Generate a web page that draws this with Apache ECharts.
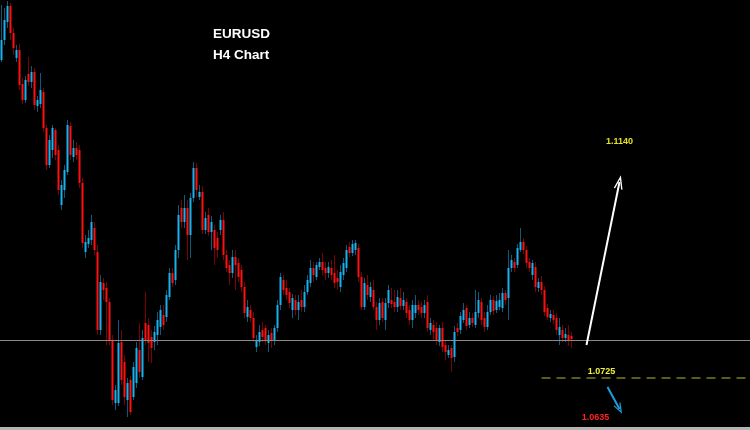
<!DOCTYPE html>
<html><head><meta charset="utf-8">
<script src="https://cdn.jsdelivr.net/npm/echarts@6/dist/echarts.min.js"></script>
<style>html,body{margin:0;padding:0;background:#000}#c{width:750px;height:430px}</style>
</head><body><div id="c"></div>
<script>
// EURUSD H4 candles
const opens = [
1.1360,1.1400,1.1436,1.1468,1.1414,1.1364,1.1380,1.1312,1.1280,1.1332,
1.1316,1.1336,1.1268,1.1272,1.1296,1.1224,1.1150,1.1180,1.1220,1.1180,
1.1070,1.1100,1.1136,1.1228,1.1166,1.1184,1.1180,1.1114,1.0976,1.0992,
1.1000,1.1024,1.0976,1.0820,1.0914,1.0904,1.0876,1.0800,1.0674,1.0674,
1.0796,1.0756,1.0680,1.0720,1.0686,1.0714,1.0780,1.0726,1.0834,1.0830,
1.0806,1.0796,1.0810,1.0826,1.0850,1.0846,1.0886,1.0934,1.0920,1.0980,
1.1064,1.1036,1.1064,1.1010,1.1084,1.1144,1.1086,1.1096,1.1020,1.1050,
1.1016,1.1020,1.1004,1.1020,1.1040,1.0970,1.0950,1.0934,1.0966,1.0954,
1.0940,1.0906,1.0846,1.0860,1.0844,1.0786,1.0796,1.0820,1.0824,1.0794,
1.0814,1.0800,1.0824,1.0870,1.0920,1.0904,1.0896,1.0860,1.0880,1.0860,
1.0880,1.0866,1.0896,1.0914,1.0944,1.0926,1.0946,1.0956,1.0944,1.0934,
1.0944,1.0934,1.0924,1.0906,1.0930,1.0944,1.0986,1.0974,1.0980,1.0984,
1.0926,1.0866,1.0910,1.0886,1.0900,1.0866,1.0840,1.0876,1.0840,1.0874,
1.0880,1.0876,1.0866,1.0884,1.0868,1.0876,1.0860,1.0840,1.0854,1.0870,
1.0866,1.0854,1.0876,1.0820,1.0830,1.0824,1.0796,1.0824,1.0790,1.0770,
1.0784,1.0766,1.0824,1.0820,1.0840,1.0864,1.0830,1.0844,1.0830,1.0854,
1.0876,1.0844,1.0826,1.0856,1.0880,1.0860,1.0866,1.0864,1.0894,1.0884,
1.0944,1.0956,1.0950,1.0980,1.0996,1.0980,1.0956,1.0930,1.0946,1.0904,
1.0916,1.0900,1.0864,1.0844,1.0850,1.0844,1.0810,1.0820,1.0804,1.0810,
1.0808];
const closes = [
1.1400,1.1440,1.1468,1.1414,1.1384,1.1380,1.1310,1.1280,1.1320,1.1316,
1.1336,1.1270,1.1280,1.1300,1.1224,1.1150,1.1200,1.1224,1.1170,1.1100,
1.1110,1.1140,1.1230,1.1170,1.1184,1.1170,1.1114,1.0994,1.0996,1.1004,
1.1036,1.0980,1.0820,1.0916,1.0900,1.0876,1.0800,1.0680,1.0700,1.0794,
1.0720,1.0686,1.0714,1.0656,1.0746,1.0784,1.0736,1.0804,1.0800,1.0794,
1.0784,1.0816,1.0840,1.0860,1.0830,1.0890,1.0934,1.0914,1.0980,1.1050,
1.1036,1.1064,1.1010,1.1084,1.1144,1.1100,1.1096,1.1020,1.1044,1.1016,
1.1036,1.0984,1.0980,1.1040,1.0970,1.0944,1.0934,1.0966,1.0950,1.0926,
1.0906,1.0854,1.0866,1.0844,1.0804,1.0800,1.0816,1.0806,1.0800,1.0810,
1.0800,1.0824,1.0870,1.0926,1.0900,1.0890,1.0874,1.0884,1.0860,1.0876,
1.0866,1.0896,1.0920,1.0944,1.0930,1.0950,1.0956,1.0940,1.0934,1.0946,
1.0930,1.0914,1.0916,1.0936,1.0954,1.0980,1.0974,1.0992,1.0994,1.0926,
1.0866,1.0914,1.0890,1.0906,1.0866,1.0840,1.0874,1.0844,1.0874,1.0900,
1.0872,1.0866,1.0886,1.0868,1.0880,1.0854,1.0840,1.0870,1.0870,1.0860,
1.0854,1.0870,1.0824,1.0834,1.0816,1.0800,1.0824,1.0786,1.0776,1.0780,
1.0764,1.0816,1.0816,1.0848,1.0860,1.0828,1.0844,1.0834,1.0856,1.0880,
1.0840,1.0826,1.0856,1.0880,1.0858,1.0878,1.0880,1.0894,1.0880,1.0944,
1.0960,1.0944,1.0984,1.0996,1.0980,1.0954,1.0944,1.0954,1.0906,1.0916,
1.0900,1.0856,1.0846,1.0852,1.0840,1.0820,1.0826,1.0804,1.0812,1.0800,
1.0802];
const highs = [
1.1470,1.1464,1.1478,1.1474,1.1424,1.1390,1.1392,1.1324,1.1328,1.1366,
1.1348,1.1344,1.1288,1.1334,1.1304,1.1230,1.1210,1.1230,1.1224,1.1190,
1.1120,1.1150,1.1240,1.1236,1.1200,1.1196,1.1190,1.1124,1.1010,1.1020,
1.1050,1.1036,1.0990,1.0930,1.0924,1.0916,1.0884,1.0810,1.0710,1.0840,
1.0820,1.0770,1.0724,1.0728,1.0756,1.0796,1.0834,1.0820,1.0896,1.0844,
1.0820,1.0828,1.0856,1.0870,1.0870,1.0900,1.0944,1.0944,1.0990,1.1070,
1.1080,1.1090,1.1080,1.1094,1.1156,1.1154,1.1110,1.1108,1.1056,1.1064,
1.1048,1.1030,1.1016,1.1050,1.1056,1.0980,1.0960,1.0980,1.0980,1.0964,
1.0950,1.0916,1.0880,1.0870,1.0856,1.0810,1.0830,1.0836,1.0830,1.0820,
1.0824,1.0830,1.0880,1.0934,1.0930,1.0920,1.0904,1.0892,1.0890,1.0890,
1.0900,1.0910,1.0930,1.0960,1.0956,1.0956,1.0964,1.0974,1.0956,1.0956,
1.0960,1.0970,1.0940,1.0950,1.0964,1.0990,1.0996,1.1000,1.1000,1.0992,
1.0936,1.0924,1.0930,1.0916,1.0920,1.0876,1.0884,1.0884,1.0884,1.0910,
1.0904,1.0900,1.0900,1.0904,1.0896,1.0884,1.0870,1.0880,1.0890,1.0880,
1.0876,1.0880,1.0890,1.0844,1.0840,1.0836,1.0830,1.0836,1.0800,1.0790,
1.0790,1.0828,1.0834,1.0856,1.0874,1.0870,1.0856,1.0854,1.0900,1.0896,
1.0884,1.0856,1.0870,1.0890,1.0888,1.0890,1.0894,1.0904,1.0900,1.0980,
1.0970,1.0964,1.0992,1.1024,1.1004,1.0988,1.0964,1.0960,1.0956,1.0924,
1.0928,1.0908,1.0872,1.0860,1.0860,1.0854,1.0844,1.0830,1.0824,1.0830,
1.0816];
const lows = [
1.1356,1.1390,1.1424,1.1400,1.1370,1.1356,1.1300,1.1272,1.1274,1.1308,
1.1304,1.1260,1.1256,1.1264,1.1216,1.1140,1.1144,1.1164,1.1160,1.1090,
1.1060,1.1084,1.1130,1.1160,1.1156,1.1160,1.1104,1.0984,1.0964,1.0984,
1.0990,1.0970,1.0810,1.0810,1.0880,1.0790,1.0790,1.0670,1.0660,1.0668,
1.0710,1.0670,1.0646,1.0650,1.0680,1.0704,1.0724,1.0720,1.0790,1.0756,
1.0754,1.0780,1.0790,1.0810,1.0820,1.0836,1.0880,1.0906,1.0910,1.0964,
1.1024,1.1024,1.0960,1.0964,1.1076,1.1086,1.1080,1.1012,1.1012,1.1008,
1.0980,1.0950,1.0964,1.1010,1.0960,1.0936,1.0910,1.0924,1.0900,1.0916,
1.0896,1.0844,1.0836,1.0836,1.0796,1.0776,1.0788,1.0796,1.0790,1.0776,
1.0784,1.0790,1.0816,1.0860,1.0890,1.0880,1.0864,1.0844,1.0850,1.0840,
1.0856,1.0856,1.0890,1.0906,1.0916,1.0920,1.0940,1.0930,1.0920,1.0924,
1.0920,1.0904,1.0900,1.0896,1.0920,1.0936,1.0966,1.0968,1.0970,1.0916,
1.0860,1.0860,1.0880,1.0876,1.0860,1.0820,1.0830,1.0836,1.0820,1.0864,
1.0864,1.0856,1.0856,1.0860,1.0860,1.0844,1.0830,1.0824,1.0844,1.0850,
1.0844,1.0844,1.0816,1.0810,1.0800,1.0790,1.0788,1.0776,1.0760,1.0764,
1.0736,1.0756,1.0808,1.0812,1.0834,1.0820,1.0824,1.0826,1.0824,1.0844,
1.0830,1.0816,1.0820,1.0850,1.0850,1.0854,1.0860,1.0856,1.0870,1.0840,
1.0936,1.0936,1.0944,1.0976,1.0972,1.0944,1.0936,1.0920,1.0896,1.0896,
1.0890,1.0848,1.0840,1.0836,1.0832,1.0810,1.0790,1.0796,1.0796,1.0788,
1.0784];

const slotCount = 250;               // bars incl. empty chart-shift area on the right
const priceLine = 1.0800;            // grey horizontal line
const supportLevel = 1.0725;
const labelTexts = ['1.1140', '1.0725', '1.0635'];
const titleTexts = ['EURUSD', 'H4 Chart'];

const categories = [];
for (let i = 0; i < slotCount; i++) categories.push(String(i));

const full = opens.map((o, i) => [o, closes[i], lows[i], highs[i]]);
const bodies = opens.map((o, i) => [o, closes[i], Math.min(o, closes[i]), Math.max(o, closes[i])]);

const chevron = 'path://M0,12L5,0L10,12L8.4,12L5,3.8L1.6,12Z';

const chart = echarts.init(document.getElementById('c'), null, {renderer: 'canvas'});
chart.setOption({
  backgroundColor: '#000000',
  animation: false,
  graphic: [
    {type: 'text', left: 213, top: 27, style: {text: titleTexts[0], fill: '#ffffff', font: 'bold 13.5px "Liberation Sans", Arial, sans-serif'}},
    {type: 'text', left: 213, top: 48, style: {text: titleTexts[1], fill: '#ffffff', font: 'bold 13.5px "Liberation Sans", Arial, sans-serif'}}
  ],
  grid: {left: 0, right: 0, top: 0, bottom: 1.5},
  xAxis: {
    type: 'category', data: categories, boundaryGap: true,
    axisLine: {show: true, onZero: false, lineStyle: {color: '#b4b4b4', width: 3}},
    axisTick: {show: false}, axisLabel: {show: false}, splitLine: {show: false}
  },
  yAxis: {
    type: 'value', min: 1.0623, max: 1.1480, show: false, splitLine: {show: false}
  },
  series: [
    {
      type: 'candlestick', name: 'wicks', data: full, barWidth: 1, silent: true,
      itemStyle: {color: '#0c5a7e', color0: '#800000', borderColor: '#0c5a7e', borderColor0: '#800000', borderWidth: 1},
      markLine: {
        silent: true, animation: false, symbol: ['none', 'none'],
        label: {show: false},
        data: [
          {yAxis: priceLine, lineStyle: {color: '#8a8a8a', width: 1, type: 'solid'}},
          [{coord: ['180', supportLevel], lineStyle: {color: '#5c5c14', width: 2, type: [9, 6]}}, {coord: ['249', supportLevel]}],
          [{coord: [195, 1.0790], symbol: 'none', lineStyle: {color: '#ffffff', width: 2, type: 'solid'}},
           {coord: [206, 1.1116], symbol: chevron, symbolSize: [9, 14]}],
          [{coord: [202, 1.0706], symbol: 'none', lineStyle: {color: '#1ea0e0', width: 2, type: 'solid'}},
           {coord: [206, 1.0662], symbol: chevron, symbolSize: [8, 11]}]
        ]
      }
    },
    {
      type: 'candlestick', name: 'bodies', data: bodies, barWidth: 2, silent: true,
      itemStyle: {color: '#18b2ee', color0: '#ff1010', borderColor: '#18b2ee', borderColor0: '#ff1010', borderWidth: 0},
      markPoint: {
        silent: true, animation: false, symbol: 'circle', symbolSize: 1,
        itemStyle: {color: 'rgba(0,0,0,0)'},
        label: {show: true, position: 'inside', formatter: p => p.name, fontSize: 9, fontWeight: 'bold', fontFamily: '"Liberation Sans", Arial, sans-serif'},
        data: [
          {name: labelTexts[0], coord: ['206', 1.1196], label: {color: '#e2e226'}},
          {name: labelTexts[1], coord: ['200', 1.0736], label: {color: '#f0f03a'}},
          {name: labelTexts[2], coord: ['198', 1.0644], label: {color: '#ff2020'}}
        ]
      }
    }
  ]
});
</script>
</body></html>
